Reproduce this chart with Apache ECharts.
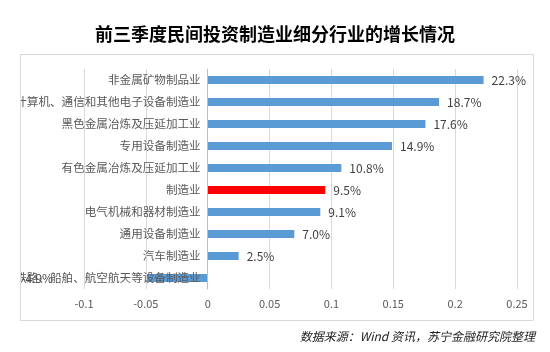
<!DOCTYPE html>
<html>
<head>
<meta charset="utf-8">
<script src="https://cdn.jsdelivr.net/npm/echarts@6/dist/echarts.min.js"></script>
<style>
  html, body { margin: 0; padding: 0; background: #fff; }
  #chart { width: 550px; height: 352px; }
</style>
</head>
<body>
<div id="chart"></div>
<script>
// 行业（自上而下）
const industries = [
  '非金属矿物制品业',
  '计算机、通信和其他电子设备制造业',
  '黑色金属冶炼及压延加工业',
  '专用设备制造业',
  '有色金属冶炼及压延加工业',
  '制造业',
  '电气机械和器材制造业',
  '通用设备制造业',
  '汽车制造业',
  '铁路、船舶、航空航天等设备制造业'
];
// 增速
const growth = [0.223, 0.187, 0.176, 0.149, 0.108, 0.095, 0.091, 0.070, 0.025, -0.049];
const highlightName = '制造业';

const xMin = -0.1, xMax = 0.25;
const FONT = '"Noto Sans CJK SC", "Microsoft YaHei", sans-serif';

const gridLeft = 84, gridRight = 33;
// 类目轴放在 0 的位置（Excel 的效果）
const plotW = 550 - gridLeft - gridRight;
const zeroOffset = -plotW * (0 - xMin) / (xMax - xMin);

const chart = echarts.init(document.getElementById('chart'));

const barData = growth.map((v, i) => {
  const item = { value: v };
  if (industries[i] === highlightName) item.itemStyle = { color: '#ff0000' };
  if (v < 0) item.label = { position: 'left', offset: [-86, 0] };
  return item;
});

chart.setOption({
  animation: false,
  backgroundColor: '#fff',
  title: [{
    text: '前三季度民间投资制造业细分行业的增长情况',
    left: 'center',
    top: 20,
    textStyle: { fontFamily: FONT, fontSize: 18, fontWeight: 'bold', color: '#000' }
  }, {
    text: '数据来源：Wind 资讯，苏宁金融研究院整理',
    right: 10,
    top: 325,
    textStyle: { fontFamily: FONT, fontSize: 12, fontStyle: 'italic', fontWeight: 'normal', color: '#222' }
  }],
  grid: { left: gridLeft, right: gridRight, top: 69, bottom: 63, containLabel: false, outerBoundsMode: 'none' },
  xAxis: {
    type: 'value',
    min: xMin,
    max: xMax,
    interval: 0.05,
    axisLine: { show: false },
    axisTick: { show: false },
    splitLine: { lineStyle: { color: '#d9d9d9' } },
    axisLabel: { color: '#595959', fontSize: 11, fontFamily: FONT, margin: 9 }
  },
  yAxis: {
    type: 'category',
    data: industries,
    inverse: true,
    offset: zeroOffset,
    z: 5,
    axisLine: { onZero: false, lineStyle: { color: '#bfbfbf' } },
    axisTick: { show: false },
    axisLabel: { color: '#595959', fontSize: 11.6, fontFamily: FONT, margin: 7 }
  },
  series: [{
    type: 'bar',
    data: barData,
    barWidth: 8,
    itemStyle: { color: '#5b9bd5' },
    label: {
      show: true,
      position: 'right',
      distance: 8,
      color: '#404040',
      fontSize: 12,
      fontFamily: FONT,
      formatter: p => (p.value * 100).toFixed(1) + '%'
    }
  }],
  graphic: [
    // 遮住边框外的文字
    { type: 'rect', z: 100, left: 0, top: 50, shape: { width: 20, height: 280 }, style: { fill: '#fff' } },
    { type: 'rect', z: 101, left: 20, top: 54, shape: { width: 513, height: 266 }, style: { fill: 'transparent', stroke: '#d9d9d9', lineWidth: 1 } }
  ]
});
</script>
</body>
</html>
